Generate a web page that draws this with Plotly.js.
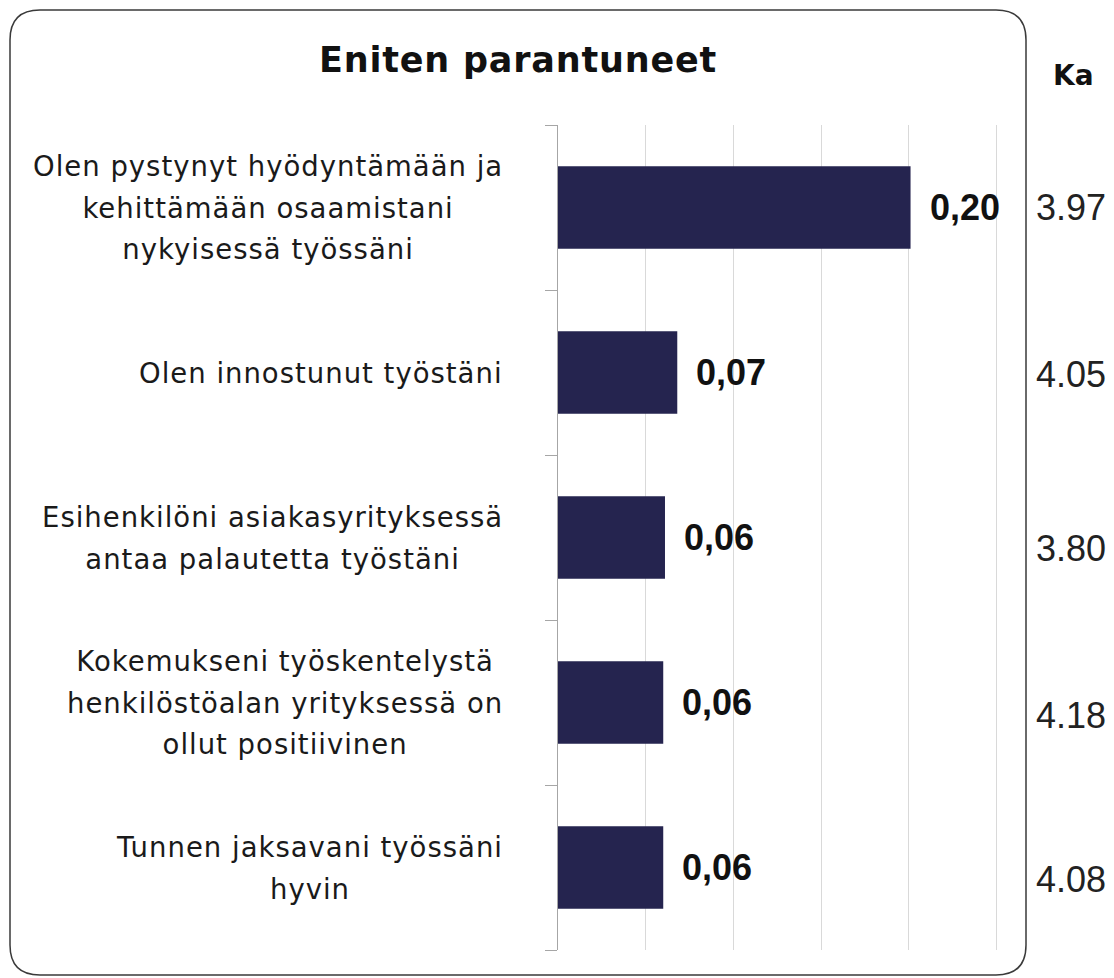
<!DOCTYPE html>
<html>
<head>
<meta charset="utf-8">
<script src="https://cdn.plot.ly/plotly-3.0.1.min.js"></script>
<style>
  html, body { margin: 0; padding: 0; background: #ffffff; }
  #chart { width: 1114px; height: 978px; }
</style>
</head>
<body>
<div id="chart"></div>
<script>
// ---- data ----
const categories = [
  "Olen pystynyt hyödyntämään ja<br>kehittämään osaamistani<br>nykyisessä työssäni",
  "Olen innostunut työstäni",
  "Esihenkilöni asiakasyrityksessä<br>antaa palautetta työstäni",
  "Kokemukseni työskentelystä<br>henkilöstöalan yrityksessä on<br>ollut positiivinen",
  "Tunnen jaksavani työssäni<br>hyvin"
];
const improvement = [0.201, 0.068, 0.061, 0.060, 0.060];
const kaValues = [3.97, 4.05, 3.80, 4.18, 4.08];
const titleText = "Eniten parantuneet";
const kaHeader = "Ka";

// ---- layout geometry (pixels) ----
const W = 1114, H = 978;
const M = { l: 558, r: 114, t: 125, b: 28 };
const plotW = W - M.l - M.r, plotH = H - M.t - M.b;
const px2x = px => (px - M.l) / plotW;
const py2y = py => 1 - (py - M.t) / plotH;

const FONT = "DejaVu Sans, Verdana, sans-serif";
const NUMFONT = "Liberation Sans, Arial, sans-serif";
const TXT = "#1a1a1a";
const BAR = "#25244f";

const annotations = [];

// category labels (centered lines, block right-aligned)
categories.forEach((c, i) => {
  const lines = c.split("<br>")
    .map(l => `<span style="font-size:27.5px;letter-spacing:1px">${l}</span>`).join("<br>");
  annotations.push({
    xref: "paper", yref: "y", x: px2x(505), y: i,
    xanchor: "right", yanchor: "middle", align: "center",
    text: lines, showarrow: false,
    font: { family: FONT, size: 32, color: TXT }
  });
});

// value labels
improvement.forEach((v, i) => {
  annotations.push({
    xref: "x", yref: "y", x: v, y: i,
    xanchor: "left", yanchor: "middle", xshift: 17,
    text: "<b>" + v.toFixed(2).replace(".", ",") + "</b>", showarrow: false,
    font: { family: NUMFONT, size: 36, color: "#111" }
  });
});

// Ka column
const kaShift = [0, -2, -11, -13, -12];
annotations.push({
  xref: "paper", yref: "paper", x: px2x(1073), y: py2y(75),
  xanchor: "center", yanchor: "middle",
  text: "<b>" + kaHeader + "</b>", showarrow: false,
  font: { family: FONT, size: 28, color: "#111" }
});
kaValues.forEach((v, i) => {
  annotations.push({
    xref: "paper", yref: "y", x: px2x(1071), y: i, yshift: kaShift[i],
    xanchor: "center", yanchor: "middle",
    text: v.toFixed(2), showarrow: false,
    font: { family: NUMFONT, size: 36, color: "#222" }
  });
});

// rounded border
const L = 10, T = 10, R = 1026, B = 975, r = 30;
const P = (x, y) => px2x(x) + "," + py2y(y);
const borderPath =
  "M" + P(L + r, T) + " L" + P(R - r, T) + " Q" + P(R, T) + " " + P(R, T + r) +
  " L" + P(R, B - r) + " Q" + P(R, B) + " " + P(R - r, B) +
  " L" + P(L + r, B) + " Q" + P(L, B) + " " + P(L, B - r) +
  " L" + P(L, T + r) + " Q" + P(L, T) + " " + P(L + r, T) + " Z";

const trace = {
  type: "bar",
  orientation: "h",
  x: improvement,
  y: categories.map((c, i) => i),
  marker: { color: BAR },
  width: 0.5,
  hoverinfo: "skip"
};

const layout = {
  width: W, height: H,
  margin: M,
  paper_bgcolor: "#ffffff",
  plot_bgcolor: "#ffffff",
  showlegend: false,
  title: {
    text: '<span style="letter-spacing:0.8px"><b>' + titleText + "</b></span>",
    x: 518 / W, xanchor: "center",
    y: 1 - 60 / H, yanchor: "middle",
    font: { family: FONT, size: 35, color: "#111" }
  },
  xaxis: {
    range: [0, 0.252],
    tick0: 0, dtick: 0.05,
    showticklabels: false,
    showgrid: true, gridcolor: "#d9d9d9", gridwidth: 1,
    zeroline: false, showline: false, ticks: ""
  },
  yaxis: {
    type: "linear",
    range: [4.5, -0.5],
    tickmode: "array",
    tickvals: [-0.5, 0.5, 1.5, 2.5, 3.5, 4.5],
    ticktext: ["", "", "", "", "", ""],
    ticks: "outside", ticklen: 12, tickcolor: "#a6a6a6", tickwidth: 1,
    showticklabels: false,
    showgrid: false, zeroline: false,
    showline: true, linecolor: "#a6a6a6", linewidth: 1
  },
  annotations: annotations,
  shapes: [{
    type: "path", xref: "paper", yref: "paper",
    path: borderPath,
    line: { color: "#3a3a3a", width: 1.5 },
    fillcolor: "rgba(0,0,0,0)",
    layer: "above"
  }]
};

Plotly.newPlot("chart", [trace], layout, { displayModeBar: false, staticPlot: true });
</script>
</body>
</html>
